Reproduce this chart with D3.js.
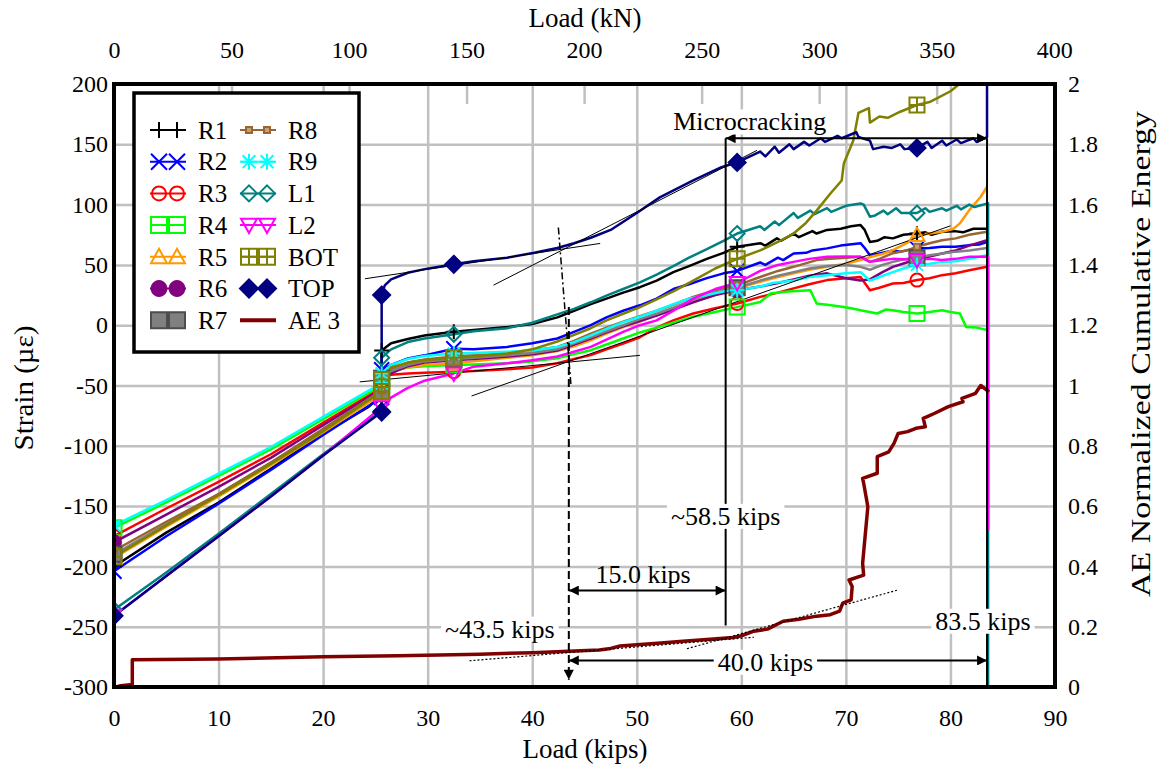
<!DOCTYPE html>
<html>
<head>
<meta charset="utf-8">
<script src="https://cdn.jsdelivr.net/npm/d3@7/dist/d3.min.js"></script>
<style>
  body { margin: 0; background: #fff; }
</style>
</head>
<body>
<svg id="chart" width="1162" height="770"></svg>
<script>
// ---------- axis ticks ----------
const kipsTicks   = [0, 10, 20, 30, 40, 50, 60, 70, 80, 90];
const kNTicks     = [0, 50, 100, 150, 200, 250, 300, 350, 400];
const strainTicks = [200, 150, 100, 50, 0, -50, -100, -150, -200, -250, -300];
const aeTicks     = [0, 0.2, 0.4, 0.6, 0.8, 1, 1.2, 1.4, 1.6, 1.8, 2];
const KIPS_PER_KN = 0.224809;

// loads (kips) at which series markers are shown
const markerLoads = [0, 25.6, 32.5, 59.6, 76.8];

// ---------- strain gauge records: [load (kips), strain (µε)] ----------
const r1 = [[0,-200],[5,-172],[10,-147],[15,-119],[20,-90],[24.3,-68],[25.6,-58],[25.6,-21],[26.5,-15],[28.1,-11.5],[29.7,-8.5],[32.5,-5.5],[34.4,-4],[37.6,-1.5],[40,1],[42.4,6.5],[44,12],[45.6,17.5],[47.1,22],[48.7,27],[50.3,31.5],[51.9,37],[53.5,44],[55,49],[56.7,55],[58.3,60],[59.6,65],[61.8,68],[62.3,66],[63.4,72],[63.8,70],[65,76],[65.5,73],[66.8,78],[67.2,76],[68.2,79],[69.5,80],[70.5,82],[71.4,83],[71.8,79],[72.3,69],[73,70],[73.7,73],[74.5,72],[75.5,75],[76.8,76],[77.6,77],[78.2,75],[79.2,77.5],[80.4,78],[81.2,77],[82.2,80],[83.5,80]];
const r2 = [[0,-204],[5,-175],[10,-148],[15,-120],[20,-91],[25.6,-60],[25.6,-37],[26.5,-33],[28.1,-27.5],[29.7,-25],[32.5,-19.5],[34.4,-20],[37.6,-18],[40,-15],[42.4,-11],[44,-5.5],[45.6,0],[47.1,6.5],[48.7,12],[50.3,16.5],[51.9,22],[53.5,30],[55,34],[56.7,39],[58.3,43],[59.6,45],[61.8,52],[62.3,50],[63.5,56],[64,54],[65,59.5],[66.2,60],[66.8,62],[68.2,63.7],[69.5,66],[71.4,68],[71.8,64],[72.3,58],[73,59],[74.5,62],[75.2,61],[76.8,63.7],[78,64],[79.2,65],[80.5,65],[81.8,66.4],[82.8,67],[83.5,69]];
const r3 = [[0,-175],[5,-152],[10,-130],[15,-107],[20,-81],[25.6,-52],[25.6,-45],[26.5,-41],[28.1,-40],[29.7,-39.5],[32.5,-38.5],[34.4,-38],[37.6,-36.5],[40,-35],[42.4,-31.6],[44,-28],[45.6,-24.8],[47.1,-20],[48.7,-15.2],[50.3,-10],[51.9,-2],[53.5,4],[55.4,9.7],[57.5,14],[59.6,18],[61.8,23.5],[63.5,27],[65,30.5],[66.5,34],[68.2,37.4],[70,39],[71.4,40],[72.3,29],[73.2,31],[74.5,34.6],[75.5,35],[76.8,37.4],[78,39],[79.2,41.5],[80.5,43],[81.8,45.6],[83.5,48.4]];
const r4 = [[0,-168],[5,-147],[10,-125],[15,-103],[20,-78],[25.6,-50],[25.6,-44],[26.5,-38],[28.1,-35],[29.7,-34],[32.5,-33],[34.4,-32.5],[37.6,-31.5],[40,-30],[42.4,-27.5],[44,-24],[45.6,-20.7],[47.1,-16],[48.7,-11],[50.3,-6],[51.9,-2],[53.5,2],[55.4,7],[57.5,11],[59.6,15],[61.8,19.3],[62.5,24],[62.8,26.3],[64.5,28],[66.6,29],[67.2,18],[68.2,17],[69.8,15],[70.5,14],[71.4,12.4],[73,9.7],[73.8,13],[74.5,12.4],[75.5,11],[76.8,9.7],[78,11],[79.2,12.4],[80,11],[80.9,9.7],[81.5,-1.4],[82.5,-2],[83.5,-4]];
const r5 = [[0,-193],[5,-167],[10,-142],[15,-116],[20,-89],[25.6,-57],[25.6,-47],[26.5,-38.5],[28.1,-35],[29.7,-33],[32.5,-31.5],[34.4,-30],[37.6,-27],[40,-25],[42.4,-21.5],[44,-17.5],[45.6,-12.5],[47.1,-7],[48.7,-1.5],[50.3,3],[51.9,8.5],[53.5,13],[55.4,19.3],[57.5,25],[59.6,30.5],[61.8,36],[63.5,40],[65,43],[66.5,46],[68.2,48.4],[70,51],[71.4,54],[72.5,57],[73.5,59],[74.5,62.2],[75.8,68],[76.8,74.7],[78,76],[79.2,77.4],[80.3,80],[80.9,84.4],[81.8,95.4],[82.9,106.5],[83.5,114.8]];
const r6 = [[0,-180],[5,-157],[10,-134],[15,-110],[20,-83],[25.6,-53],[25.6,-45],[26.5,-40],[28.1,-34],[29.7,-31],[32.5,-29],[34.4,-28],[37.6,-26],[40,-24],[42.4,-21],[44,-16],[45.6,-11],[47.1,-6],[48.7,-1],[50.3,3.5],[51.9,8],[53.5,13],[55.4,19],[57.5,25],[59.6,29],[61.8,32],[63.5,35],[65,38],[66.5,41],[68.2,43],[70,39],[71.4,37],[72.3,38],[73.5,44],[74.5,48.4],[75.8,52],[76.8,55],[78,57],[79.2,59.5],[80.5,62],[81.8,66],[83.5,70.5]];
const r7 = [[0,-190],[5,-165],[10,-140],[15,-114],[20,-87],[25.6,-55],[25.6,-44],[26.5,-38],[28.1,-33],[29.7,-30],[32.5,-28],[34.4,-27],[37.6,-25],[40,-23],[42.4,-20],[44,-15],[45.6,-10],[47.1,-5],[48.7,0],[50.3,5],[51.9,9.5],[53.5,14.5],[55.4,21],[57.5,27],[59.6,31],[61.8,37],[63.5,41],[65,44],[66.5,47],[68.2,49],[70,50],[71.4,48.4],[72.3,46],[73.5,50],[74.5,52.5],[75.8,55],[76.8,56],[78,58],[79.2,59.5],[80.5,61],[81.8,62],[83.5,64]];
const r8 = [[0,-187],[5,-163],[10,-140],[15,-114],[20,-86],[25.6,-54],[25.6,-42],[26.5,-36],[28.1,-31],[29.7,-28.5],[32.5,-26],[34.4,-25],[37.6,-23.5],[40,-21],[42.4,-18],[44,-13],[45.6,-7],[47.1,-2],[48.7,3],[50.3,7.5],[51.9,12],[53.5,17],[55.4,23.5],[57.5,29],[59.6,33],[61.8,40],[63.5,45],[65,48.4],[67.2,54],[68.5,55],[70,56],[71.4,56.7],[72.3,52.5],[73.2,55],[74.5,59.7],[75.8,62],[76.8,65],[78,68],[79.2,70.5],[80.5,72],[81.8,75],[83.5,77.5]];
const r9 = [[0,-166],[5,-145],[10,-123],[15,-101],[20,-76],[25.6,-48],[25.6,-40],[26.5,-33],[28.1,-28],[29.7,-25.5],[32.5,-23.5],[34.4,-23],[37.6,-22],[40,-21],[42.4,-18],[44,-14],[45.6,-8.5],[47.1,-3],[48.7,2.5],[50.3,7],[51.9,12],[53.5,17.5],[55,22],[56.7,25],[58.3,28],[59.6,29],[61.8,32],[63,35],[65,37],[66.5,40],[68.2,41.5],[70,43],[71.4,44],[72.3,37],[73.2,40],[74.5,44],[75.5,47],[76.8,50],[78,51],[79.2,52.5],[80.5,53],[81.8,55],[83.5,58]];
const l1 = [[0,-236],[5,-205],[10,-173],[15,-140],[20,-107],[25.6,-71],[25.6,-27],[26.5,-20],[28.1,-14],[29.7,-11],[32.5,-7.5],[34.4,-5],[37.6,-2.5],[40,2],[42.4,9],[44,13.5],[45.6,19],[47.1,24.5],[48.7,30],[50.3,35.5],[51.9,42],[53.5,49],[55,56],[56.7,63],[58.3,70],[59.6,76],[61.8,82],[62.2,79],[63.2,86],[63.6,83],[65,93],[65.4,89],[66.6,95],[67,92],[68.2,97],[68.6,94],[70,99],[71.4,101],[71.7,100],[72.3,90],[72.8,91],[73.6,95],[74,92],[74.8,97],[75.3,93],[76.8,93],[77.6,97],[78,94],[79.2,97],[79.6,95],[80.6,99],[81,96],[81.8,100],[82.3,98],[83.6,101],[83.6,-330]];
const l2 = [[0,-241],[5,-208],[10,-175],[15,-142],[20,-108],[25.6,-68],[26.5,-60],[28.1,-52],[29.7,-46],[32.5,-40],[34.4,-34.4],[37.6,-31.6],[40,-29],[42.4,-26],[44,-22],[45.6,-18],[47.1,-12],[48.7,-5.6],[50.3,0],[51.9,4],[53.5,12],[55.4,22],[57.5,30],[59.6,35],[61.8,45],[63.5,50],[65,52.5],[66.5,55],[68.2,56.7],[70,57],[71.4,56.7],[72.3,52.5],[73.5,54],[74.5,55],[76.8,54],[78,55],[79.2,54],[80.5,55],[81.8,56.7],[83.6,56.7],[83.6,-170]];
const bot = [[0,-192],[5,-166],[10,-141],[15,-115],[20,-88],[25.6,-55],[25.6,-45],[26.5,-35],[28.1,-31],[29.7,-29],[32.5,-27],[34.4,-26],[37.6,-23.5],[40,-20],[42.4,-13.5],[44,-8],[45.6,-2.5],[47.1,4],[48.7,9.5],[50.3,15],[51.9,21.5],[53.5,28],[55.4,37],[57.5,47],[59.6,55],[61.8,62],[63.5,69],[65,76],[66.2,85],[67.2,95],[68.5,109],[69.6,120],[69.8,134],[70.7,153],[71.2,176],[72.2,180],[72.3,168],[73.2,173],[74,172],[75.2,177],[76.8,182.6],[78,185],[78.7,188],[80,194],[81,201],[82.5,210]];
const top_ = [[0,-241],[5,-208],[10,-175],[15,-142],[20,-108],[25.6,-72],[25.6,25],[25.9,33],[26.5,38],[28.1,43.5],[29.7,46.5],[32.5,50.5],[34.4,53],[37.6,56],[40.2,60],[42.4,64],[44,68],[45.6,72.5],[47.5,79],[50,93],[52.2,106],[55.4,120],[58.1,131],[59.6,135],[61.8,144],[62.3,140],[63.2,148],[63.6,143],[64.6,150],[65,146],[66,152],[66.5,149],[67.6,155],[68,152],[69.2,157],[69.6,155],[71,160],[71.2,156],[72.3,153],[72.6,146],[73.6,148],[74.4,147],[75.2,150],[75.6,146],[76.8,147],[77.8,152],[78.2,147],[79.2,153],[79.6,149],[80.6,154],[81,151],[82.2,155],[82.5,152],[83.5,156],[83.5,260]];

// ---------- acoustic emission: [load (kips), normalized cumulative energy] ----------
const ae3 = [[0.2,0],[0.65,0.004],[1.75,0.008],[1.75,0.09],[10,0.093],[20,0.1],[27.2,0.104],[35,0.109],[40,0.114],[42.9,0.118],[46.4,0.123],[47.5,0.128],[48.4,0.136],[50,0.14],[52,0.145],[54.4,0.152],[57,0.158],[59.2,0.164],[60,0.17],[61.2,0.185],[62.5,0.192],[64,0.218],[65.5,0.225],[67.2,0.235],[68.5,0.24],[69.4,0.252],[69.7,0.278],[70.5,0.289],[70.6,0.333],[70.3,0.355],[71.7,0.371],[71.6,0.41],[72.1,0.598],[71.7,0.676],[71.6,0.692],[73,0.709],[73,0.764],[74.1,0.78],[74.6,0.808],[75,0.841],[75.9,0.847],[76.7,0.858],[77.6,0.863],[77.4,0.891],[78.5,0.908],[79.8,0.93],[81.2,0.946],[81.1,0.957],[82.4,0.974],[82.9,1.0],[83.7,0.979]];

// ---------- fitted tangent lines ----------
const strainTangents = [
  [[24.0, 38.5], [46.5, 67.8]],
  [[36.3, 33.2], [61.5, 145]],
  [[23.5, -47], [50.3, -25]],
  [[34.2, -58.7], [80, 82.4]]
];
const aeTangents = [
  [[34, 0.087], [61.2, 0.165]],
  [[54.8, 0.127], [75, 0.322]]
];

// ---------- annotated loads (kips) ----------
const onsetLoad = 43.5;
const microLoad = 58.5;
const failLoad  = 83.5;

// ---------- layout ----------
const P = { left: 114, right: 1055, top: 84, bottom: 687 };
const SERIF = "'Liberation Serif', 'Times New Roman', serif";

const x   = d3.scaleLinear().domain([0, 90]).range([P.left, P.right]);
const xkN = d3.scaleLinear().domain([0, 400]).range([x(0), x(400 * KIPS_PER_KN)]);
const y   = d3.scaleLinear().domain([-300, 200]).range([P.bottom, P.top]);
const yAE = d3.scaleLinear().domain([0, 2]).range([P.bottom, P.top]);

const svg = d3.select("#chart").style("font-family", SERIF);
const GRID = "#c0c0c0";
const serifText = sel => sel.style("font-family", SERIF).attr("fill", "#000");

const defs = svg.append("defs");
defs.append("clipPath").attr("id", "plotClip")
  .append("rect").attr("x", P.left).attr("y", P.top)
  .attr("width", P.right - P.left).attr("height", P.bottom - P.top);
defs.append("marker").attr("id", "arrowHead")
  .attr("viewBox", "0 0 10 10").attr("refX", 10).attr("refY", 5)
  .attr("markerWidth", 6).attr("markerHeight", 5)
  .attr("orient", "auto-start-reverse")
  .append("path").attr("d", "M0,0 L10,5 L0,10 z").attr("fill", "#000");

// ---------- grid ----------
const gridV = svg.append("g").attr("transform", `translate(0,${P.bottom})`)
  .call(d3.axisBottom(x).tickValues(kipsTicks).tickSize(-(P.bottom - P.top)).tickFormat(""));
const gridH = svg.append("g").attr("transform", `translate(${P.left},0)`)
  .call(d3.axisLeft(y).tickValues(strainTicks).tickSize(-(P.right - P.left)).tickFormat(""));
const kNTickMarks = svg.append("g").attr("transform", `translate(0,${P.top})`)
  .call(d3.axisTop(xkN).tickValues(kNTicks).tickSize(-20).tickFormat(""));
[gridV, gridH, kNTickMarks].forEach(g => {
  g.select(".domain").remove();
  g.selectAll("line").attr("stroke", GRID).attr("stroke-width", 2.5);
});

// ---------- tick labels ----------
function labelAxis(g, size) {
  g.attr("font-size", size).style("font-family", SERIF);
  g.select(".domain").remove();
  g.selectAll("line").remove();
  serifText(g.selectAll("text")).attr("font-size", size);
}
const fmtPlain = d => String(+d.toFixed(1));
labelAxis(svg.append("g").attr("transform", `translate(0,${P.bottom})`)
  .call(d3.axisBottom(x).tickValues(kipsTicks).tickSize(0).tickPadding(22).tickFormat(fmtPlain)), 24);
labelAxis(svg.append("g").attr("transform", `translate(0,${P.top})`)
  .call(d3.axisTop(xkN).tickValues(kNTicks).tickSize(0).tickPadding(26).tickFormat(fmtPlain)), 24);
labelAxis(svg.append("g").attr("transform", `translate(${P.left},0)`)
  .call(d3.axisLeft(y).tickValues(strainTicks).tickSize(0).tickPadding(6).tickFormat(fmtPlain)), 24);
labelAxis(svg.append("g").attr("transform", `translate(${P.right},0)`)
  .call(d3.axisRight(yAE).tickValues(aeTicks).tickSize(0).tickPadding(13).tickFormat(fmtPlain)), 24);

// ---------- axis titles ----------
serifText(svg.append("text")).attr("x", 585).attr("y", 27).attr("text-anchor", "middle")
  .attr("font-size", 27).text("Load (kN)");
serifText(svg.append("text")).attr("x", 585).attr("y", 758).attr("text-anchor", "middle")
  .attr("font-size", 27).text("Load (kips)");
serifText(svg.append("text")).attr("transform", `translate(33,388) rotate(-90)`)
  .attr("text-anchor", "middle").attr("font-size", 27)
  .attr("textLength", 125).attr("lengthAdjust", "spacingAndGlyphs").text("Strain (\u00b5\u03b5)");
serifText(svg.append("text")).attr("transform", `translate(1150,354) rotate(-90)`)
  .attr("text-anchor", "middle").attr("font-size", 27)
  .attr("textLength", 486).attr("lengthAdjust", "spacingAndGlyphs").text("AE Normalized Cumulative Energy");

// ---------- marker shapes ----------
function drawMarker(g, type, color, s) {
  const h = s / 2;
  const add = (d, fill, stroke) => g.append("path").attr("d", d)
    .attr("fill", fill || "none").attr("stroke", stroke || color).attr("stroke-width", 2);
  switch (type) {
    case "plus": add(`M${-h},0H${h}M0,${-h}V${h}`); break;
    case "x": add(`M${-h},${-h}L${h},${h}M${-h},${h}L${h},${-h}`); break;
    case "circle": g.append("circle").attr("r", h - 1).attr("fill", "none").attr("stroke", color).attr("stroke-width", 2); break;
    case "square": add(`M${-h},${-h}H${h}V${h}H${-h}Z`); break;
    case "triUp": add(`M0,${-h}L${h},${h * 0.8}H${-h}Z`); break;
    case "triDown": add(`M0,${h}L${h},${-h * 0.8}H${-h}Z`); break;
    case "dot": g.append("circle").attr("r", h).attr("fill", color).attr("stroke", color).attr("stroke-width", 1); break;
    case "graySquare": add(`M${-h},${-h}H${h}V${h}H${-h}Z`, color, "#4d4d4d"); break;
    case "tiny": add(`M-3,-3H3V3H-3Z`, "#c8a070", color); break;
    case "star": add(`M0,${-h}V${h}M${-h * 0.8},${-h * 0.8}L${h * 0.8},${h * 0.8}M${-h * 0.8},${h * 0.8}L${h * 0.8},${-h * 0.8}M${-h},0H${h}`); break;
    case "diamond": add(`M0,${-h}L${h},0L0,${h}L${-h},0Z`); break;
    case "gridSquare": add(`M${-h},${-h}H${h}V${h}H${-h}ZM0,${-h}V${h}M${-h},0H${h}`); break;
    case "diamondFill": add(`M0,${-h - 1}L${h + 1},0L0,${h + 1}L${-h - 1},0Z`, color); break;
  }
}

// ---------- series styles ----------
const strainSeries = [
  { name: "R1",  data: r1,   color: "#000000", marker: "plus" },
  { name: "R2",  data: r2,   color: "#0000ff", marker: "x" },
  { name: "R3",  data: r3,   color: "#ff0000", marker: "circle" },
  { name: "R4",  data: r4,   color: "#00ff00", marker: "square" },
  { name: "R5",  data: r5,   color: "#ff9900", marker: "triUp" },
  { name: "R6",  data: r6,   color: "#800080", marker: "dot" },
  { name: "R7",  data: r7,   color: "#808080", marker: "graySquare" },
  { name: "R8",  data: r8,   color: "#996633", marker: "tiny" },
  { name: "R9",  data: r9,   color: "#00ffff", marker: "star" },
  { name: "L1",  data: l1,   color: "#008080", marker: "diamond" },
  { name: "L2",  data: l2,   color: "#ff00ff", marker: "triDown" },
  { name: "BOT", data: bot,  color: "#808000", marker: "gridSquare" },
  { name: "TOP", data: top_, color: "#000080", marker: "diamondFill" }
];
const aeSeries = { name: "AE 3", data: ae3, color: "#800000" };

// ---------- records ----------
const plotG = svg.append("g").attr("clip-path", "url(#plotClip)");
const strainLine = d3.line().x(d => x(d[0])).y(d => y(d[1]));

strainSeries.forEach(s => {
  plotG.append("path").datum(s.data).attr("d", strainLine)
    .attr("fill", "none").attr("stroke", s.color).attr("stroke-width", 2.5)
    .attr("stroke-linejoin", "round");
});

// tangent fits
strainTangents.forEach(t => {
  plotG.append("line").attr("x1", x(t[0][0])).attr("y1", y(t[0][1]))
    .attr("x2", x(t[1][0])).attr("y2", y(t[1][1]))
    .attr("stroke", "#000").attr("stroke-width", 1);
});

strainSeries.forEach(s => {
  s.data.filter(d => markerLoads.includes(d[0])).forEach(d => {
    const g = plotG.append("g").attr("transform", `translate(${x(d[0])},${y(d[1])})`);
    drawMarker(g, s.marker, s.color, 15);
  });
});

// acoustic emission curve on the secondary axis
plotG.append("path").datum(aeSeries.data)
  .attr("d", d3.line().x(d => x(d[0])).y(d => yAE(d[1])))
  .attr("fill", "none").attr("stroke", aeSeries.color).attr("stroke-width", 3.5)
  .attr("stroke-linejoin", "round");
aeTangents.forEach(t => {
  plotG.append("line").attr("x1", x(t[0][0])).attr("y1", yAE(t[0][1]))
    .attr("x2", x(t[1][0])).attr("y2", yAE(t[1][1]))
    .attr("stroke", "#000").attr("stroke-width", 1.2).attr("stroke-dasharray", "2,2");
});

// ---------- annotations ----------
const ann = svg.append("g");
// failure load line
ann.append("line").attr("x1", x(failLoad)).attr("x2", x(failLoad))
  .attr("y1", y(155)).attr("y2", y(-300)).attr("stroke", "#000").attr("stroke-width", 2);
// crack-onset construction line
ann.append("line").attr("x1", x(42.5)).attr("y1", y(81)).attr("x2", x(43.7)).attr("y2", y(-49))
  .attr("stroke", "#000").attr("stroke-width", 1.5).attr("stroke-dasharray", "7,3,2,3");
ann.append("line").attr("x1", x(onsetLoad)).attr("y1", y(15)).attr("x2", x(onsetLoad)).attr("y2", y(-294))
  .attr("stroke", "#000").attr("stroke-width", 2).attr("stroke-dasharray", "8,4")
  .attr("marker-end", "url(#arrowHead)");
// microcracking start line
ann.append("line").attr("x1", x(microLoad)).attr("x2", x(microLoad))
  .attr("y1", y(155)).attr("y2", y(-249)).attr("stroke", "#000").attr("stroke-width", 2);
// span arrows
function spanArrow(a, b, yv) {
  ann.append("line").attr("x1", x(a)).attr("x2", x(b)).attr("y1", y(yv)).attr("y2", y(yv))
    .attr("stroke", "#000").attr("stroke-width", 2)
    .attr("marker-start", "url(#arrowHead)").attr("marker-end", "url(#arrowHead)");
}
spanArrow(microLoad, failLoad, 155);
spanArrow(onsetLoad, microLoad, -220);
spanArrow(onsetLoad, failLoad, -278);

function label(txt, kx, sy, boxed) {
  const t = serifText(ann.append("text")).attr("x", x(kx)).attr("y", y(sy)).attr("dy", "0.35em")
    .attr("text-anchor", "middle").attr("font-size", 26).text(txt);
  if (boxed) {
    const b = t.node().getBBox();
    ann.insert("rect", () => t.node()).attr("x", b.x - 4).attr("y", b.y + 2)
      .attr("width", b.width + 8).attr("height", b.height - 4).attr("fill", "#fff");
  }
}
label("Microcracking", 60.8, 169, true);
label(`~${microLoad.toFixed(1)} kips`, microLoad, -158, true);
label(`${(microLoad - onsetLoad).toFixed(1)} kips`, 50.6, -206, false);
label(`~${onsetLoad.toFixed(1)} kips`, 36.9, -251.5, true);
label(`${(failLoad - onsetLoad).toFixed(1)} kips`, 62.3, -279, true);
label(`${failLoad.toFixed(1)} kips`, 83.1, -245, true);

// ---------- frame ----------
svg.append("rect").attr("x", P.left).attr("y", P.top)
  .attr("width", P.right - P.left).attr("height", P.bottom - P.top)
  .attr("fill", "none").attr("stroke", "#000").attr("stroke-width", 4);

// ---------- legend ----------
const legend = svg.append("g");
legend.append("rect").attr("x", 134).attr("y", 93).attr("width", 225).attr("height", 259)
  .attr("fill", "#fff").attr("stroke", "#000").attr("stroke-width", 3.5);
const legendItems = strainSeries.map(s => ({ ...s, kind: "strain" })).concat([{ ...aeSeries, kind: "ae" }]);
legendItems.forEach((s, i) => {
  const col = i < 7 ? 0 : 1, row = i % 7;
  const x0 = col === 0 ? 150 : 240, yy = 130 + row * 31.7;
  const g = legend.append("g");
  if (s.kind === "ae") {
    g.append("line").attr("x1", x0).attr("x2", x0 + 36).attr("y1", yy).attr("y2", yy)
      .attr("stroke", s.color).attr("stroke-width", 4);
  } else {
    g.append("line").attr("x1", x0).attr("x2", x0 + 36).attr("y1", yy).attr("y2", yy)
      .attr("stroke", s.color).attr("stroke-width", 2);
    [x0 + 9, x0 + 27].forEach(mx => {
      drawMarker(g.append("g").attr("transform", `translate(${mx},${yy})`), s.marker, s.color, s.marker === "tiny" ? 6 : 16);
    });
  }
  serifText(g.append("text")).attr("x", x0 + 48).attr("y", yy).attr("dy", "0.35em")
    .attr("font-size", 25).text(s.name);
});
</script>
</body>
</html>
